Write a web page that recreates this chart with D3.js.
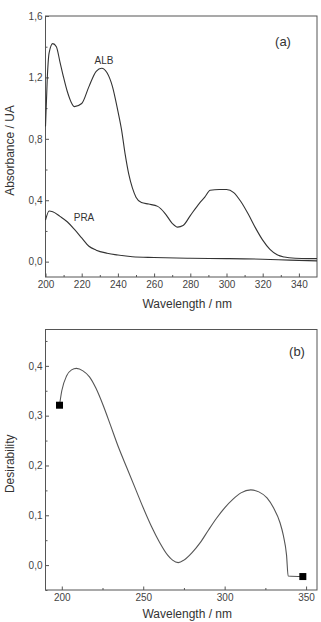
<!DOCTYPE html>
<html>
<head>
<meta charset="utf-8">
<script src="https://cdn.jsdelivr.net/npm/d3@7"></script>
<style>
  body { margin: 0; background: #fff; }
  svg { display: block; font-family: "Liberation Sans", Arial, sans-serif; }
  .tick text { fill: #444; font-size: 10px; }
</style>
</head>
<body>
<script>
// Panel (a) absorbance spectra
var albWl  = [200, 201, 202, 204, 206, 208, 210, 212, 216, 220, 224, 228, 231, 234, 237, 240, 242, 244, 246, 248, 250, 253, 257, 262, 266, 270, 273, 276, 280, 285, 288, 291, 296, 300, 304, 308, 312, 316, 320, 324, 328, 332, 338, 345, 350];
var albAbs = [0.88, 1.2, 1.36, 1.42, 1.40, 1.30, 1.20, 1.11, 1.01, 1.03, 1.14, 1.24, 1.26, 1.23, 1.14, 0.98, 0.86, 0.70, 0.57, 0.48, 0.42, 0.385, 0.375, 0.36, 0.315, 0.25, 0.225, 0.235, 0.30, 0.38, 0.42, 0.465, 0.47, 0.47, 0.45, 0.39, 0.31, 0.22, 0.14, 0.08, 0.045, 0.03, 0.022, 0.02, 0.02];
var praWl  = [200, 202, 204, 208, 212, 216, 220, 224, 228, 234, 240, 248, 260, 280, 300, 320, 335, 350];
var praAbs = [0.27, 0.33, 0.325, 0.295, 0.26, 0.21, 0.155, 0.1, 0.075, 0.055, 0.043, 0.032, 0.027, 0.022, 0.02, 0.016, 0.01, 0.005];
var absTicks = [0, 0.4, 0.8, 1.2, 1.6];
var wlTicksA = [200, 220, 240, 260, 280, 300, 320, 340];

// Panel (b) desirability
var desWl  = [198.6, 200, 203, 206, 209, 213, 217, 221, 225.5, 230, 235, 240, 245, 250, 255, 260, 265, 268, 271.5, 275, 280, 285, 290, 295, 300, 305, 310, 316, 321, 326, 330, 334, 336, 338, 339, 348];
var desVal = [0.321, 0.35, 0.38, 0.392, 0.395, 0.39, 0.378, 0.355, 0.32, 0.28, 0.235, 0.195, 0.155, 0.115, 0.078, 0.046, 0.02, 0.01, 0.005, 0.01, 0.025, 0.045, 0.07, 0.094, 0.115, 0.132, 0.145, 0.151, 0.147, 0.135, 0.115, 0.085, 0.06, 0.02, -0.022, -0.023];
var markWl  = [198.6, 348];
var markVal = [0.321, -0.023];
var desTicks = [0, 0.1, 0.2, 0.3, 0.4];
var wlTicksB = [200, 250, 300, 350];

var width = 321, height = 622;
var left = 45.5, right = 317;

var svg = d3.select('body').append('svg')
  .attr('width', width)
  .attr('height', height);

var comma = function (d) { return d3.format('.1f')(d).replace('.', ','); };

function panel(opts) {
  var x = d3.scaleLinear().domain(opts.xDomain).range([left, right]);
  var y = d3.scaleLinear().domain(opts.yDomain).range([opts.bottom, opts.top]);
  var g = svg.append('g');

  // minor ticks
  g.append('g')
    .attr('transform', 'translate(0,' + opts.bottom + ')')
    .call(d3.axisBottom(x).tickValues(opts.xMinor).tickSizeInner(-2).tickSizeOuter(0).tickFormat(''))
    .call(function (a) { a.select('.domain').remove(); });
  g.append('g')
    .attr('transform', 'translate(' + left + ',0)')
    .call(d3.axisLeft(y).tickValues(opts.yMinor).tickSizeInner(-2).tickSizeOuter(0).tickFormat(''))
    .call(function (a) { a.select('.domain').remove(); });

  // major axes
  g.append('g')
    .attr('transform', 'translate(0,' + opts.bottom + ')')
    .call(d3.axisBottom(x).tickValues(opts.xTicks).tickSizeInner(-3.5).tickSizeOuter(0).tickPadding(4).tickFormat(d3.format('d')))
    .call(function (a) { a.select('.domain').remove(); });
  g.append('g')
    .attr('transform', 'translate(' + left + ',0)')
    .call(d3.axisLeft(y).tickValues(opts.yTicks).tickSizeInner(-3.5).tickSizeOuter(0).tickPadding(3).tickFormat(comma))
    .call(function (a) { a.select('.domain').remove(); });

  g.selectAll('.tick line').attr('stroke', '#555');

  // frame
  g.append('rect')
    .attr('x', left).attr('y', opts.top)
    .attr('width', right - left).attr('height', opts.bottom - opts.top)
    .attr('fill', 'none').attr('stroke', '#555').attr('stroke-width', 1);

  // axis titles
  g.append('text')
    .attr('x', (left + right) / 2 + 6).attr('y', opts.bottom + opts.titleGap)
    .attr('text-anchor', 'middle').attr('font-size', 12).attr('fill', '#333')
    .text('Wavelength / nm');
  g.append('text')
    .attr('text-anchor', 'middle').attr('font-size', 12).attr('fill', '#333')
    .attr('transform', 'translate(14,' + ((opts.top + opts.bottom) / 2 + 4) + ')rotate(-90)')
    .text(opts.yLabel);

  g.append('text')
    .attr('x', opts.tagX).attr('y', opts.tagY)
    .attr('text-anchor', 'middle').attr('font-size', 13).attr('fill', '#333')
    .text(opts.tag);

  return {g: g, x: x, y: y};
}

// ----- panel (a)
var pa = panel({
  xDomain: [200, 350], yDomain: [-0.1, 1.6], top: 16, bottom: 277,
  xTicks: wlTicksA, xMinor: d3.range(210, 350, 20),
  yTicks: absTicks, yMinor: [0.2, 0.6, 1.0, 1.4],
  yLabel: 'Absorbance / UA', tag: '(a)', tagX: 283, tagY: 46, titleGap: 31
});

var lineA = d3.line()
  .x(function (d) { return pa.x(d[0]); })
  .y(function (d) { return pa.y(d[1]); })
  .curve(d3.curveMonotoneX);

pa.g.append('path')
  .datum(d3.zip(albWl, albAbs))
  .attr('d', lineA)
  .attr('fill', 'none').attr('stroke', '#333').attr('stroke-width', 1.1);
pa.g.append('path')
  .datum(d3.zip(praWl, praAbs))
  .attr('d', lineA)
  .attr('fill', 'none').attr('stroke', '#333').attr('stroke-width', 1.1);

pa.g.append('text').attr('x', 104).attr('y', 64)
  .attr('text-anchor', 'middle').attr('font-size', 10).attr('fill', '#333').text('ALB');
pa.g.append('text').attr('x', 84).attr('y', 221)
  .attr('text-anchor', 'middle').attr('font-size', 10).attr('fill', '#333').text('PRA');

// ----- panel (b)
var pb = panel({
  xDomain: [190, 356.7], yDomain: [-0.05, 0.473], top: 329.5, bottom: 590,
  xTicks: wlTicksB, xMinor: [225, 275, 325],
  yTicks: desTicks, yMinor: [-0.05, 0.05, 0.15, 0.25, 0.35, 0.45],
  yLabel: 'Desirability', tag: '(b)', tagX: 297, tagY: 356, titleGap: 28
});

var lineB = d3.line()
  .x(function (d) { return pb.x(d[0]); })
  .y(function (d) { return pb.y(d[1]); })
  .curve(d3.curveMonotoneX);

pb.g.append('path')
  .datum(d3.zip(desWl, desVal))
  .attr('d', lineB)
  .attr('fill', 'none').attr('stroke', '#555').attr('stroke-width', 1.1);

pb.g.selectAll('rect.mark')
  .data(d3.zip(markWl, markVal))
  .enter()
  .append('rect')
    .attr('class', 'mark')
    .attr('x', function (d) { return pb.x(d[0]) - 3.5; })
    .attr('y', function (d) { return pb.y(d[1]) - 3.5; })
    .attr('width', 7).attr('height', 7)
    .attr('fill', '#000');
</script>
</body>
</html>
